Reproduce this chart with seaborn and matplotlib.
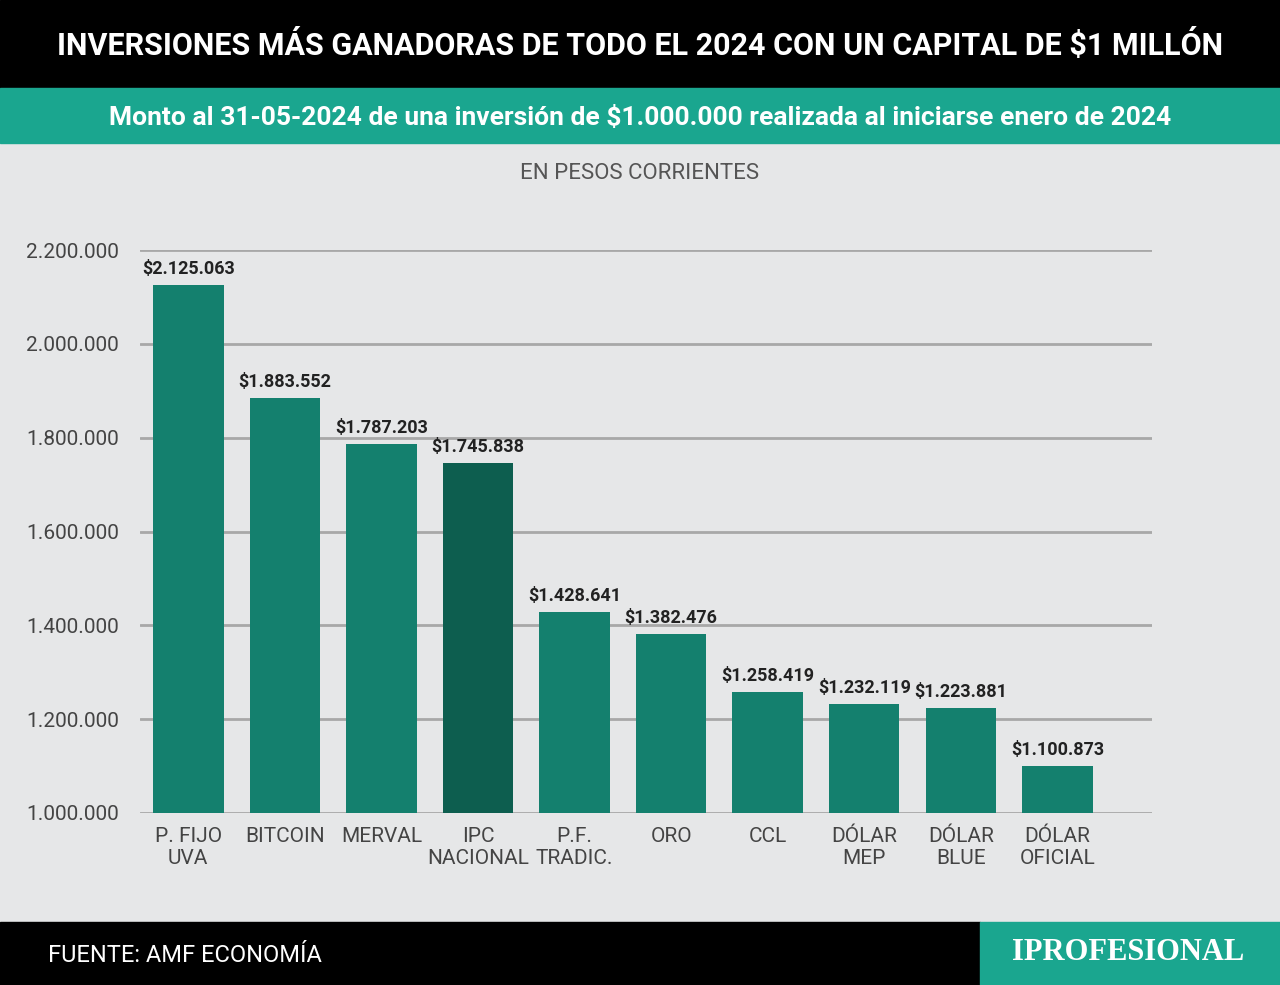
import numpy as np
import pandas as pd
import matplotlib.pyplot as plt
import seaborn as sns
from matplotlib.patches import Rectangle

categorias = ["P. FIJO\nUVA", "BITCOIN", "MERVAL", "IPC\nNACIONAL", "P.F.\nTRADIC.",
              "ORO", "CCL", "DÓLAR\nMEP", "DÓLAR\nBLUE", "DÓLAR\nOFICIAL"]
montos = [2125063, 1883552, 1787203, 1745838, 1428641, 1382476, 1258419, 1232119, 1223881, 1100873]
etiquetas = ["$2.125.063", "$1.883.552", "$1.787.203", "$1.745.838", "$1.428.641",
             "$1.382.476", "$1.258.419", "$1.232.119", "$1.223.881", "$1.100.873"]
ticks = [1000000, 1200000, 1400000, 1600000, 1800000, 2000000, 2200000]

sns.set_style("white")
plt.rcParams['font.family'] = ['Roboto', 'DejaVu Sans']

bg = "#e6e7e8"
teal = "#1aa68f"
fig = plt.figure(figsize=(12.8, 9.85), dpi=100, facecolor=bg)

# header bands
fig.patches.append(Rectangle((0, 1 - 88/985), 1, 88/985, transform=fig.transFigure, color="black"))
fig.patches.append(Rectangle((0, 1 - 143/985), 1, 55/985, transform=fig.transFigure, color=teal))
fig.text(0.5, 1 - 45/985, "INVERSIONES MÁS GANADORAS DE TODO EL 2024 CON UN CAPITAL DE $1 MILLÓN",
         color="white", fontsize=22, fontweight="bold", ha="center", va="center")
fig.text(0.5, 1 - 118/985, "Monto al 31-05-2024 de una inversión de $1.000.000 realizada al iniciarse enero de 2024",
         color="white", fontsize=19, fontweight="bold", ha="center", va="center")
fig.text(0.5, 1 - 173/985, "EN PESOS CORRIENTES", color="#555555", fontsize=16, ha="center", va="center")

# footer
fig.patches.append(Rectangle((0, 0), 980/1280, 63/985, transform=fig.transFigure, color="black"))
fig.patches.append(Rectangle((980/1280, 0), 300/1280, 63/985, transform=fig.transFigure, color=teal))
fig.text(48/1280, 30/985, "FUENTE: AMF ECONOMÍA", color="white", fontsize=17, va="center")
fig.text(1128/1280, 33/985, "IPROFESIONAL", color="white", fontsize=22, fontweight="bold",
         family=["Liberation Serif", "DejaVu Serif"], ha="center", va="center")

ax = fig.add_axes([140/1280, 1 - 813/985, 1012/1280, 563/985])
ax.set_facecolor(bg)
df = pd.DataFrame({"cat": categorias, "monto": montos})
colores = ["#14806e"] * len(categorias)
colores[3] = "#0d5e4f"
sns.barplot(data=df, x="cat", y="monto", hue="cat", palette=colores, legend=False,
            width=0.73, saturation=1, linewidth=0, ax=ax, zorder=3)
for i, (v, t) in enumerate(zip(montos, etiquetas)):
    ax.text(i, v + 15000, t, ha="center", va="bottom", fontsize=13, fontweight="bold", color="#222222")

ax.set_ylim(ticks[0], ticks[-1])
ax.set_xlim(-0.5, 9.98)
ax.set_yticks(ticks)
ax.set_yticklabels([f"{t:,}".replace(",", ".") for t in ticks], fontsize=15, color="#444444")
ax.tick_params(axis="x", labelsize=15, colors="#444444", length=0, pad=10)
ax.tick_params(axis="y", length=0, pad=15)
for t in ticks:
    ax.axhline(t, color="#a8a8a8", lw=2, zorder=1)
ax.set_xlabel("")
ax.set_ylabel("")
for s in ax.spines.values():
    s.set_visible(False)

fig.savefig("out.png", dpi=100, facecolor=bg)
